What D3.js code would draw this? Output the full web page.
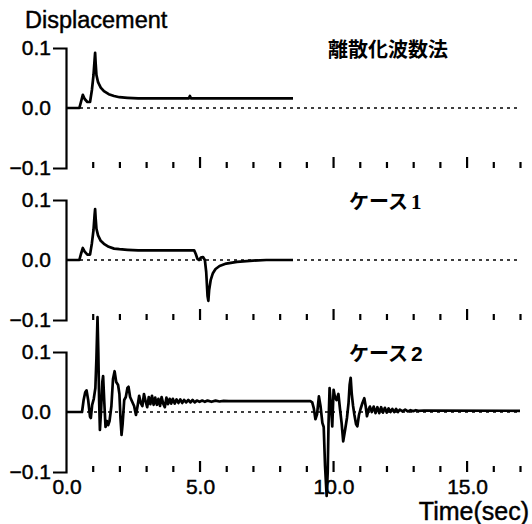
<!DOCTYPE html>
<html><head><meta charset="utf-8">
<script src="https://cdn.jsdelivr.net/npm/d3@7/dist/d3.min.js"></script>
<style>
html,body{margin:0;padding:0;background:#fff;}
svg{display:block;}
text{font-family:"Liberation Sans",Arial,Helvetica,sans-serif;fill:#000;}
.heavy{stroke:#000;stroke-width:0.45px;}
</style></head>
<body>
<svg id="chart" width="532" height="524"></svg>
<script>
// ---- data ----
const panelTitles = ["離散化波数法", "ケース", "ケース"];
const panelTitleSuffix = ["", "1", "2"];
const yTicks = [-0.1, 0.0, 0.1];
const yTickLabels = ["−0.1", "0.0", "0.1"];
const xMinorTicks = [1,2,3,4,6,7,8,9,11,12,13,14,16,17];
const xMajorTicks = [5,10,15];
const xTickLabelValues = [0,5,10,15];
const xTickLabels = ["0.0","5.0","10.0","15.0"];
const yLabel = "Displacement";
const xLabel = "Time(sec)";

// [time, displacement]
const seriesWavenumber = [
 [0,0],[0.5,0],[0.56,0.01],[0.63,0.022],[0.7,0.015],[0.8,0.01],[0.9,0.01],[0.97,0.03],
 [1.03,0.055],[1.07,0.08],[1.09,0.092],[1.11,0.075],[1.14,0.055],[1.2,0.043],[1.3,0.034],
 [1.42,0.028],[1.6,0.023],[1.8,0.02],[2.0,0.018],[2.3,0.017],[2.7,0.016],[4.6,0.016],
 [4.64,0.02],[4.68,0.016],[8.5,0.016]
];
const seriesCase1 = [
 [0,0],[0.5,0],[0.56,0.01],[0.63,0.02],[0.7,0.014],[0.8,0.009],[0.9,0.009],[0.97,0.028],
 [1.03,0.05],[1.07,0.075],[1.09,0.085],[1.11,0.07],[1.14,0.052],[1.2,0.041],[1.3,0.032],
 [1.42,0.027],[1.6,0.022],[1.8,0.019],[2.0,0.018],[2.3,0.017],[2.7,0.016],[4.8,0.016],
 [4.86,0.01],[4.92,0.002],[4.98,0.0],[5.05,0.004],[5.13,0.005],[5.2,0.0],[5.25,-0.02],
 [5.3,-0.06],[5.33,-0.068],[5.36,-0.05],[5.42,-0.033],[5.5,-0.022],[5.6,-0.015],[5.75,-0.01],
 [6.0,-0.006],[6.4,-0.003],[7.0,-0.001],[7.5,0],[8.5,0]
];
const seriesCase2 = [
 [0,0],[0.6,0],[0.66,0.02],[0.72,0.033],[0.77,0.036],[0.83,0.02],[0.9,-0.008],[0.93,-0.01],
 [0.98,0.012],[1.04,0.022],[1.1,0.04],[1.14,0.09],[1.18,0.158],[1.21,0.1],[1.24,0.02],
 [1.27,-0.03],[1.31,0.0],[1.36,0.05],[1.39,0.06],[1.43,0.02],[1.48,-0.025],[1.53,-0.015],
 [1.58,-0.022],[1.63,-0.015],[1.7,0.01],[1.76,0.055],[1.82,0.068],[1.88,0.05],[1.95,0.045],
 [2.0,0.03],[2.04,-0.01],[2.08,-0.038],[2.12,-0.02],[2.18,0.02],[2.24,0.025],[2.3,0.04],
 [2.34,0.042],[2.4,0.025],[2.47,0.018],[2.55,0.01],[2.62,-0.005],[2.68,0.01],[2.74,0.027],
 [2.8,0.015],[2.86,0.01],[2.92,0.03],[2.98,0.018],[3.04,0.008],[3.1,0.025],[3.16,0.013],
 [3.22,0.027],[3.28,0.012],[3.34,0.024],[3.4,0.012],[3.46,0.022],[3.52,0.01],[3.58,0.025],
 [3.64,0.014],[3.7,0.008],[3.76,0.024],[3.82,0.013],[3.88,0.022],[3.94,0.014],[4.0,0.022],
 [4.07,0.014],[4.14,0.021],[4.21,0.015],[4.28,0.021],[4.35,0.015],[4.42,0.02],[4.5,0.016],
 [4.58,0.02],[4.66,0.016],[4.74,0.02],[4.82,0.016],[4.9,0.019],[5.0,0.017],[5.1,0.019],
 [5.2,0.017],[5.3,0.019],[5.45,0.017],[5.6,0.019],[5.75,0.0175],[5.9,0.0185],[6.1,0.018],
 [9.15,0.018],[9.22,0.016],[9.28,0.006],[9.34,-0.012],[9.4,-0.004],[9.47,0.026],[9.53,0.01],
 [9.6,-0.018],[9.65,-0.025],[9.7,-0.09],[9.76,-0.14],[9.8,-0.1],[9.83,-0.02],[9.87,0.04],
 [9.92,0.01],[9.97,-0.024],[10.02,0.037],[10.07,0.025],[10.13,0.02],[10.2,0.03],[10.26,0.005],
 [10.32,-0.018],[10.38,-0.049],[10.45,-0.03],[10.52,-0.01],[10.58,0.015],[10.62,0.045],
 [10.66,0.057],[10.7,0.03],[10.75,0.01],[10.8,-0.005],[10.86,-0.02],[10.91,-0.024],
 [10.97,-0.005],[11.03,0.005],[11.1,0.015],[11.17,0.023],[11.22,0.01],[11.27,-0.007],
 [11.33,0.004],[11.38,0.009],[11.45,0.0],[11.52,0.009],[11.59,-0.002],[11.66,0.008],
 [11.73,-0.002],[11.8,0.008],[11.87,-0.001],[11.94,0.007],[12.01,-0.001],[12.08,0.006],
 [12.15,0.0],[12.22,0.005],[12.29,0.0],[12.36,0.005],[12.43,0.0],[12.5,0.004],[12.6,0.001],
 [12.7,0.004],[12.8,0.001],[12.9,0.003],[13.0,0.0015],[13.1,0.003],[13.2,0.002],[13.4,0.0025],
 [17,0.002]
];
const allSeries = [seriesWavenumber, seriesCase1, seriesCase2];

// ---- layout ----
const svg = d3.select("#chart");
const panelTops = [48, 200, 352];
const panelH = 120;
const x = d3.scaleLinear().domain([0,17]).range([66,520]);

allSeries.forEach((data, i) => {
  const top = panelTops[i];
  const y = d3.scaleLinear().domain([-0.1,0.1]).range([top+panelH, top]);
  const g = svg.append("g");

  // dashed zero line
  g.append("line")
    .attr("x1", x(0)).attr("x2", x(17))
    .attr("y1", y(0)).attr("y2", y(0))
    .attr("stroke","#000").attr("stroke-width",1.6)
    .attr("stroke-dasharray","3,4");

  // y axis
  const ya = g.append("g").attr("transform",`translate(${x(0)},0)`)
    .call(d3.axisLeft(y).tickValues(yTicks).tickSize(0).tickSizeOuter(13).tickPadding(15)
      .tickFormat((d,k)=>yTickLabels[k]));
  ya.select(".domain").attr("stroke-width",2.2);
  ya.selectAll("text").attr("font-size",21).attr("class","heavy")
    .attr("font-family","Liberation Sans, Arial, sans-serif").attr("fill","#000");

  // bottom ticks pointing up
  const minor = g.append("g").attr("transform",`translate(0,${y(-0.1)})`)
    .call(d3.axisTop(x).tickValues(xMinorTicks).tickSize(6).tickFormat(""));
  minor.select(".domain").remove();
  minor.selectAll("line").attr("stroke-width",2.2);
  const major = g.append("g").attr("transform",`translate(0,${y(-0.1)})`)
    .call(d3.axisTop(x).tickValues(xMajorTicks).tickSize(11).tickFormat(""));
  major.select(".domain").remove();
  major.selectAll("line").attr("stroke-width",2.2);

  // data line
  g.append("path").datum(data)
    .attr("fill","none").attr("stroke","#000").attr("stroke-width",2.7)
    .attr("stroke-linejoin","round")
    .attr("d", d3.line().x(d=>x(d[0])).y(d=>y(d[1])));

  // title
  const t = g.append("text")
    .attr("x", i===0 ? 328 : 349).attr("y", top + 9)
    .attr("font-size", 20).attr("font-weight","bold")
    .style("font-family","'Noto Sans CJK JP', sans-serif");
  t.append("tspan").text(panelTitles[i]);
  if (panelTitleSuffix[i]) {
    t.append("tspan").attr("dx", 3).text(panelTitleSuffix[i])
      .style("font-family", i===1 ? "'Liberation Serif', serif" : "'Liberation Sans', sans-serif")
      .attr("font-size", 21);
  }

  // x tick labels on last panel
  if (i === 2) {
    g.selectAll(".xl").data(xTickLabelValues).join("text")
      .attr("class","heavy")
      .attr("x", d=>x(d)+1).attr("y", 494)
      .attr("text-anchor","middle").attr("font-size",21)
      .text((d,k)=>xTickLabels[k]);
  }
});

svg.append("text").attr("class","heavy").attr("x",25).attr("y",28).attr("font-size",23.5).text(yLabel);
svg.append("text").attr("class","heavy").attr("x",529).attr("y",520)
  .attr("text-anchor","end").attr("font-size",25).text(xLabel);
</script>
</body></html>
